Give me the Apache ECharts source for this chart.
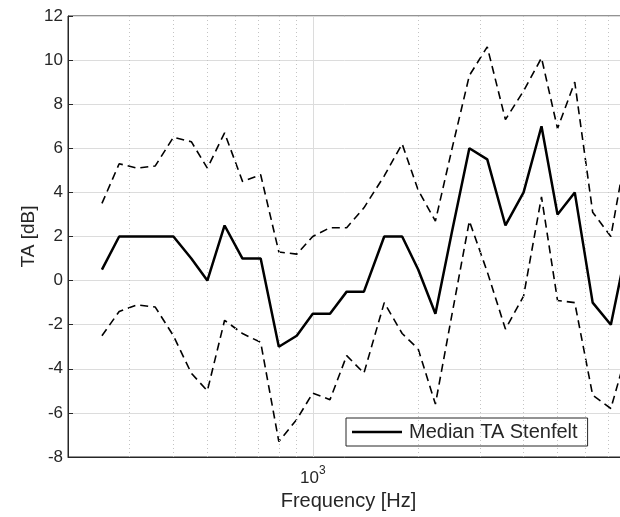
<!DOCTYPE html>
<html>
<head>
<meta charset="utf-8">
<script src="https://cdn.jsdelivr.net/npm/echarts@6/dist/echarts.min.js"></script>
<style>html,body{margin:0;padding:0;background:#fff}#c{width:620px;height:517px}</style>
</head>
<body>
<div id="c"></div>
<script>
var freqs = [250,280,315,355,400,450,500,560,630,710,800,900,1000,1120,1250,1400,1600,1800,2000,2240,2500,2800,3150,3550,4000,4500,5000,5600,6300,7100,8000];
var median = [0.5,2,2,2,2,1,0,2.5,1,1,-3,-2.5,-1.5,-1.5,-0.5,-0.5,2,2,0.5,-1.5,2.25,6,5.5,2.5,4,7,3,4,-1,-2,2];
var upper = [3.5,5.3,5.1,5.2,6.5,6.3,5.1,6.7,4.5,4.8,1.3,1.2,2.0,2.4,2.4,3.3,4.75,6.2,4.1,2.7,6.0,9.3,10.6,7.3,8.6,10.1,6.9,9.0,3.1,2.0,6.6];
var lower = [-2.5,-1.4,-1.1,-1.2,-2.5,-4.2,-5.0,-1.8,-2.4,-2.8,-7.3,-6.3,-5.1,-5.4,-3.4,-4.2,-1.0,-2.4,-3.1,-5.6,-1.5,2.7,0.4,-2.2,-0.7,3.8,-0.9,-1.0,-5.2,-5.8,-2.9];
var minorGrid = [300,400,500,600,700,800,900,2000,3000,4000,5000,6000,7000];
var yTicks = {min:-8, max:12, step:2};
var xRange = {min:200, max:8000};

function pairs(ys){ return freqs.map(function(f,i){ return [f, ys[i]]; }); }

var FONT = 'Liberation Sans, Arial, sans-serif';
var TXT = '#262626';
var chart = echarts.init(document.getElementById('c'), null, {renderer:'canvas'});
chart.setOption({
  animation:false,
  backgroundColor:'#fff',
  grid:{left:68, width:561, top:16, height:441, outerBoundsMode:'none', containLabel:false, show:true, borderColor:TXT, borderWidth:1, backgroundColor:'transparent'},
  xAxis:{
    type:'log', logBase:10, min:xRange.min, max:xRange.max,
    name:'Frequency [Hz]', nameLocation:'middle', nameGap:34, nameMoveOverlap:false,
    nameTextStyle:{fontFamily:FONT, fontSize:20, color:TXT},
    axisLine:{show:true, onZero:false, lineStyle:{color:TXT, width:1}},
    axisTick:{show:false},
    axisLabel:{
      margin:8, color:TXT, fontFamily:FONT,
      formatter:function(v){ return Math.abs(Math.log10(v)-3)<1e-6 ? '{a|10}{b|3}' : ''; },
      rich:{a:{fontSize:17, fontFamily:FONT, color:TXT, verticalAlign:'bottom'}, b:{fontSize:12, fontFamily:FONT, color:TXT, verticalAlign:'top', padding:[0,0,10,0]}}
    },
    splitLine:{show:true, lineStyle:{color:'#dcdcdc', width:1}}
  },
  yAxis:{
    type:'value', min:yTicks.min, max:yTicks.max, interval:yTicks.step,
    name:'TA [dB]', nameLocation:'middle', nameGap:30, nameMoveOverlap:false,
    nameTextStyle:{fontFamily:FONT, fontSize:19, color:TXT},
    axisLine:{show:true, onZero:false, lineStyle:{color:TXT, width:1}},
    axisTick:{show:true, inside:true, length:5, lineStyle:{color:TXT}},
    axisLabel:{margin:5, color:TXT, fontFamily:FONT, fontSize:17},
    splitLine:{show:true, lineStyle:{color:'#dcdcdc', width:1}}
  },
  legend:{
    data:[{name:'Median TA Stenfelt', icon:'rect'}],
    left:346, top:418, width:242, height:29,
    itemWidth:50, itemHeight:2.5, itemGap:0,
    padding:[4,10,4,6],
    borderColor:TXT, borderWidth:1, backgroundColor:'#fff',
    textStyle:{fontFamily:FONT, fontSize:20, color:TXT, padding:[0,0,0,2]},
    selectedMode:false
  },
  series:[
    {name:'Median TA Stenfelt', type:'line', data:pairs(median), symbol:'none', z:5,
     lineStyle:{color:'#000', width:2.5}, itemStyle:{color:'#000'},
     markLine:{silent:true, symbol:'none', label:{show:false}, animation:false,
       lineStyle:{color:'#c4c4c4', type:[1,3], width:1},
       data:minorGrid.map(function(f){ return {xAxis:f}; })}
    },
    {name:'Upper', type:'line', data:pairs(upper), symbol:'none', z:4,
     lineStyle:{color:'#000', width:1.6, type:[8,5]}},
    {name:'Lower', type:'line', data:pairs(lower), symbol:'none', z:4,
     lineStyle:{color:'#000', width:1.6, type:[8,5]}}
  ]
});
</script>
</body>
</html>
